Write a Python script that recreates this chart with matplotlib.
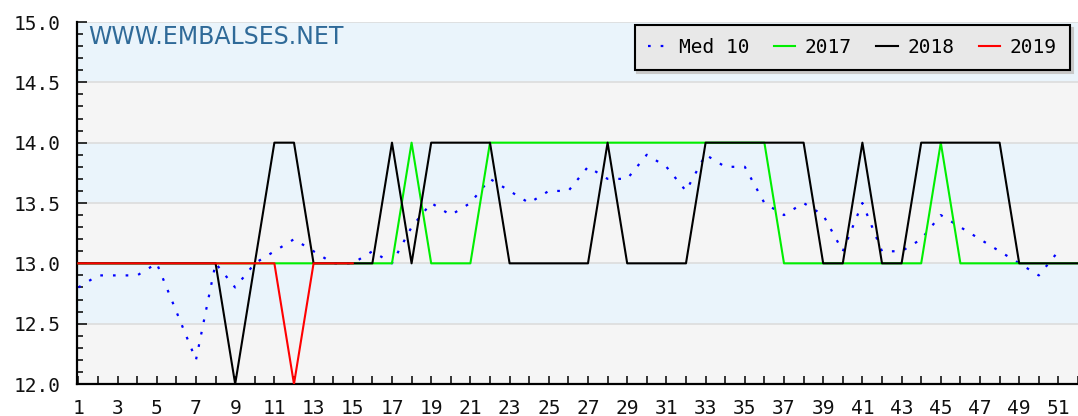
import matplotlib
matplotlib.use("Agg")
import matplotlib.pyplot as plt
from matplotlib.ticker import MultipleLocator

# ---- data ----
weeks_med = list(range(1, 52))
med10 = [12.8, 12.9, 12.9, 12.9, 13.0, 12.6, 12.2, 13.0, 12.8, 13.0,
         13.1, 13.2, 13.1, 13.0, 13.0, 13.1, 13.0, 13.3, 13.5, 13.4,
         13.5, 13.7, 13.6, 13.5, 13.6, 13.6, 13.8, 13.7, 13.7, 13.9,
         13.8, 13.6, 13.9, 13.8, 13.8, 13.5, 13.4, 13.5, 13.4, 13.1,
         13.5, 13.1, 13.1, 13.2, 13.4, 13.3, 13.2, 13.1, 13.0, 12.9,
         13.1]

weeks_full = list(range(1, 53))
y2017 = [13, 13, 13, 13, 13, 13, 13, 13, 13, 13,
         13, 13, 13, 13, 13, 13, 13, 14, 13, 13,
         13, 14, 14, 14, 14, 14, 14, 14, 14, 14,
         14, 14, 14, 14, 14, 14, 13, 13, 13, 13,
         13, 13, 13, 13, 14, 13, 13, 13, 13, 13,
         13, 13]
y2018 = [13, 13, 13, 13, 13, 13, 13, 13, 12, 13,
         14, 14, 13, 13, 13, 13, 14, 13, 14, 14,
         14, 14, 13, 13, 13, 13, 13, 14, 13, 13,
         13, 13, 14, 14, 14, 14, 14, 14, 13, 13,
         14, 13, 13, 14, 14, 14, 14, 14, 13, 13,
         13, 13]
weeks_2019 = list(range(1, 16))
y2019 = [13, 13, 13, 13, 13, 13, 13, 13, 13, 13, 13, 12, 13, 13, 13]

series_labels = ["Med 10", "2017", "2018", "2019"]
x_tick_labels = [str(w) if w % 2 == 1 else "" for w in weeks_full]

# ---- figure ----
W, H = 1078, 416
fig = plt.figure(figsize=(W / 100, H / 100), dpi=100)
fig.patch.set_facecolor("white")
left_px, right_px, top_px, bottom_px = 77, 1078, 22, 384
ax = fig.add_axes([left_px / W, 1 - bottom_px / H,
                   (right_px - left_px) / W, (bottom_px - top_px) / H])

ax.set_ylim(12.0, 15.0)
ax.set_xlim(0.93, 51.41)

# alternating bands
band_gray = "#f5f5f5"
band_blue = "#eaf4fb"
lo = 12.0
i = 0
while lo < 15.0 - 1e-9:
    ax.axhspan(lo, lo + 0.5, color=band_gray if i % 2 == 0 else band_blue,
               zorder=0, lw=0)
    lo += 0.5
    i += 1
for g in [12.5, 13.0, 13.5, 14.0, 14.5, 15.0]:
    ax.axhline(g, color="#dcdcdc", lw=1.2, zorder=0.5)

ax.plot(weeks_med, med10, color="#0000ff", lw=1.6,
        linestyle=(0, (1.2, 4.5)), label=series_labels[0], zorder=2)
ax.plot(weeks_full, y2017, color="#00ee00", lw=1.5, label=series_labels[1], zorder=3)
ax.plot(weeks_full, y2018, color="#000000", lw=1.5, label=series_labels[2], zorder=4)
ax.plot(weeks_2019, y2019, color="#ff0000", lw=1.5, label=series_labels[3], zorder=5)

# spines
for s in ["top", "right"]:
    ax.spines[s].set_visible(False)
for s in ["left", "bottom"]:
    ax.spines[s].set_linewidth(1.6)
    ax.spines[s].set_color("black")

mono = "DejaVu Sans Mono"
ax.set_xticks(weeks_full)
ax.set_xticklabels(x_tick_labels, fontfamily=mono, fontsize=14, color="#111111")
ax.yaxis.set_major_locator(MultipleLocator(0.5))
ax.yaxis.set_minor_locator(MultipleLocator(0.1))
ax.set_yticklabels([f"{v:.1f}" for v in ax.get_yticks()], fontfamily=mono,
                   fontsize=14, color="#111111")
ax.set_ylim(12.0, 15.0)
ax.tick_params(axis="x", direction="in", length=6, width=1.1, pad=11)
ax.tick_params(axis="y", which="major", direction="in", length=7.5, width=1.1, pad=12)
ax.tick_params(axis="y", which="minor", direction="in", length=4.5, width=1.1)

# watermark
fig.text(88 / W, 1 - 37 / H, "WWW.EMBALSES.NET", fontsize=17,
         color="#2f6a98", va="center", ha="left", fontfamily="DejaVu Sans")

leg = ax.legend(loc="upper right", bbox_to_anchor=(1070 / W, 1 - 25 / H),
                bbox_transform=fig.transFigure, ncol=4, frameon=True,
                prop={"family": mono, "size": 14}, handlelength=1.1,
                handletextpad=0.5, columnspacing=1.25, borderpad=0.68,
                borderaxespad=0, fancybox=False,
                shadow={"color": "#c8c8c8", "alpha": 1.0})
leg.get_frame().set_facecolor("#e8e8e8")
leg.get_frame().set_edgecolor("black")
leg.get_frame().set_linewidth(1.5)
leg.get_frame().set_alpha(1.0)
leg.set_zorder(10)

fig.savefig("out.png", dpi=100)
